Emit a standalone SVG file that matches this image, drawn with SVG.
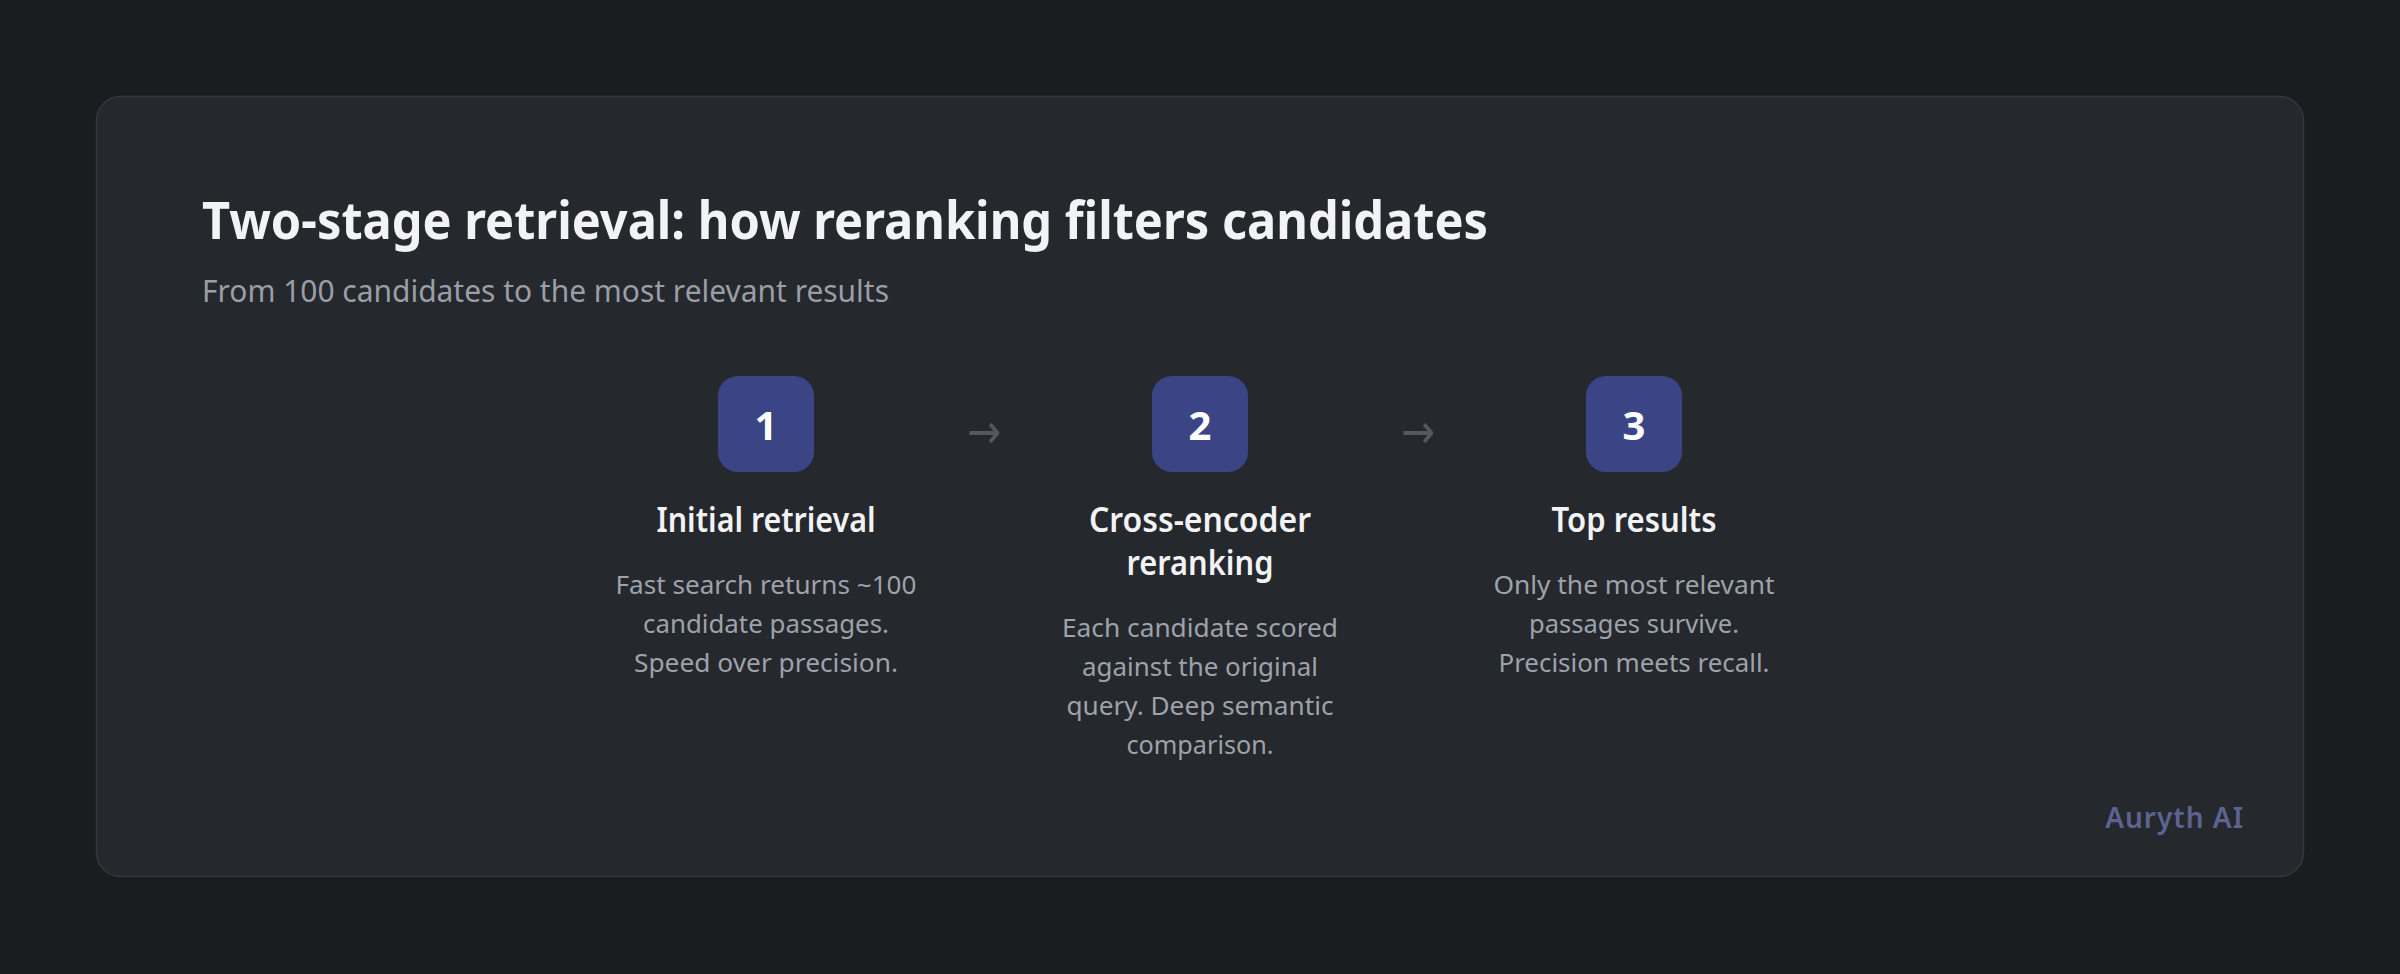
<svg xmlns="http://www.w3.org/2000/svg" width="2400" height="974" viewBox="0 0 2400 974">
<style>
  text { font-family: "Noto Sans", "Open Sans", "DejaVu Sans", sans-serif; }
  .title { font-size: 52px; font-weight: 700; fill: #f3f3f5; }
  .sub { font-size: 30px; font-weight: 400; fill: #9a9ea6; }
  .box { fill: #3b4586; }
  .num { font-size: 40px; font-weight: 700; fill: #ffffff; text-anchor: middle; }
  .stitle { font-size: 35px; font-weight: 600; fill: #f3f3f5; text-anchor: middle; }
  .desc { font-size: 26px; font-weight: 400; fill: #9ea2aa; text-anchor: middle; }
  .arrow { font-size: 48px; fill: #55585f; text-anchor: middle; }
  .brand { font-size: 28px; font-weight: 600; fill: #5c6391; text-anchor: end; letter-spacing: 1px; }
</style>
<rect x="0" y="0" width="2400" height="974" fill="#1b1c20"/>
<g id="card">
  <rect x="96.5" y="96.5" width="2207" height="780" rx="24" fill="#25282d" stroke="#34373d" stroke-width="1.5"/>
  <text class="title" x="202" y="239" textLength="1286" lengthAdjust="spacingAndGlyphs">Two-stage retrieval: how reranking filters candidates</text>
  <text class="sub" x="202" y="302" textLength="687" lengthAdjust="spacingAndGlyphs">From 100 candidates to the most relevant results</text>
</g>
<g id="step1">
  <rect class="box" x="718" y="376" width="96" height="96" rx="20"/>
  <text class="num" x="766" y="440">1</text>
  <text class="stitle" x="766" y="532" textLength="219" lengthAdjust="spacingAndGlyphs">Initial retrieval</text>
  <text class="desc" x="766" y="594" textLength="301" lengthAdjust="spacingAndGlyphs">Fast search returns ~100</text>
  <text class="desc" x="766" y="633" textLength="246" lengthAdjust="spacingAndGlyphs">candidate passages.</text>
  <text class="desc" x="766" y="672" textLength="264" lengthAdjust="spacingAndGlyphs">Speed over precision.</text>
</g>
<g id="step2">
  <rect class="box" x="1152" y="376" width="96" height="96" rx="20"/>
  <text class="num" x="1200" y="440">2</text>
  <text class="stitle" x="1200" y="532" textLength="222" lengthAdjust="spacingAndGlyphs">Cross-encoder</text>
  <text class="stitle" x="1200" y="575" textLength="147" lengthAdjust="spacingAndGlyphs">reranking</text>
  <text class="desc" x="1200" y="637" textLength="276" lengthAdjust="spacingAndGlyphs">Each candidate scored</text>
  <text class="desc" x="1200" y="676" textLength="236" lengthAdjust="spacingAndGlyphs">against the original</text>
  <text class="desc" x="1200" y="715" textLength="267" lengthAdjust="spacingAndGlyphs">query. Deep semantic</text>
  <text class="desc" x="1200" y="754" textLength="147" lengthAdjust="spacingAndGlyphs">comparison.</text>
</g>
<g id="step3">
  <rect class="box" x="1586" y="376" width="96" height="96" rx="20"/>
  <text class="num" x="1634" y="440">3</text>
  <text class="stitle" x="1634" y="532" textLength="165" lengthAdjust="spacingAndGlyphs">Top results</text>
  <text class="desc" x="1634" y="594" textLength="281" lengthAdjust="spacingAndGlyphs">Only the most relevant</text>
  <text class="desc" x="1634" y="633" textLength="210" lengthAdjust="spacingAndGlyphs">passages survive.</text>
  <text class="desc" x="1634" y="672" textLength="271" lengthAdjust="spacingAndGlyphs">Precision meets recall.</text>
</g>
<g id="connectors">
  <text class="arrow" x="984" y="448" textLength="34" lengthAdjust="spacingAndGlyphs">→</text>
  <text class="arrow" x="1418" y="448" textLength="34" lengthAdjust="spacingAndGlyphs">→</text>
</g>
<g id="brand">
  <text class="brand" x="2244" y="828">Auryth AI</text>
</g>
</svg>
